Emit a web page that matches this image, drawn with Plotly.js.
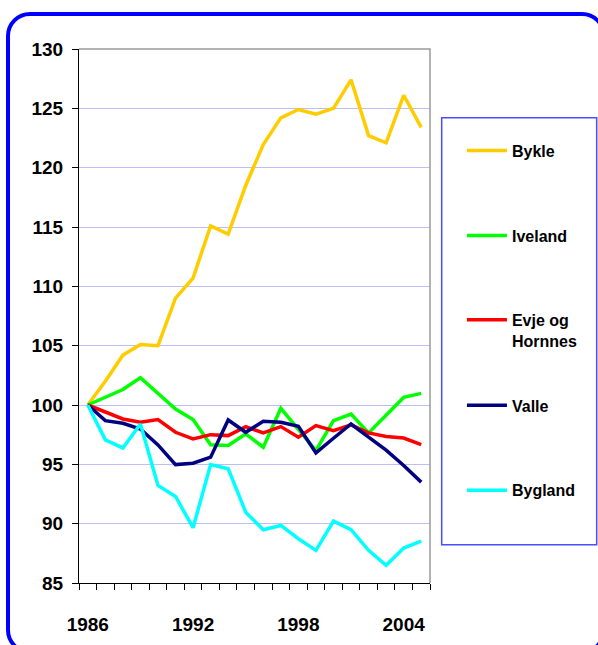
<!DOCTYPE html>
<html>
<head>
<meta charset="utf-8">
<script src="https://cdn.plot.ly/plotly-3.0.1.min.js"></script>
<style>
  html, body { margin: 0; padding: 0; background: #ffffff; width: 598px; height: 645px; overflow: hidden; }
  #frame { position: absolute; left: 6px; top: 12px; width: 600px; height: 642px; border: 4px solid #0000ff; border-radius: 24px; box-sizing: border-box; pointer-events: none; }
  #chart { position: absolute; left: 0; top: 0; width: 598px; height: 645px; }
</style>
</head>
<body>
<div id="frame"></div>
<div id="chart"></div>
<script>
const years = [1986, 1987, 1988, 1989, 1990, 1991, 1992, 1993, 1994, 1995,
               1996, 1997, 1998, 1999, 2000, 2001, 2002, 2003, 2004, 2005];
const xTickLabels = [1986, 1992, 1998, 2004];
const seriesNames = ['Bykle', 'Iveland', 'Evje og<br>Hornnes', 'Valle', 'Bygland'];
const bykle   = [100, 102.0, 104.2, 105.1, 105.0, 109.0, 110.7, 115.1, 114.4, 118.5,
                 121.95, 124.2, 124.9, 124.5, 125.0, 127.4, 122.7, 122.1, 126.1, 123.4];
const iveland = [100, 100.67, 101.3, 102.3, 101.0, 99.66, 98.77, 96.64, 96.58, 97.56,
                 96.44, 99.72, 97.95, 96.16, 98.68, 99.24, 97.64, 99.16, 100.64, 100.98];
const evje    = [100, 99.38, 98.82, 98.54, 98.77, 97.70, 97.14, 97.50, 97.42, 98.18,
                 97.65, 98.18, 97.28, 98.26, 97.84, 98.32, 97.65, 97.34, 97.22, 96.66];
const valle   = [100, 98.68, 98.46, 97.98, 96.64, 94.98, 95.09, 95.60, 98.74, 97.70,
                 98.63, 98.54, 98.21, 95.96, 97.2, 98.4, 97.3, 96.2, 94.9, 93.5];
const bygland = [100, 97.06, 96.38, 98.40, 93.22, 92.29, 89.66, 94.98, 94.62, 90.97,
                 89.49, 89.85, 88.73, 87.75, 90.22, 89.49, 87.75, 86.49, 87.94, 88.53];

const seriesValues = [bykle, iveland, evje, valle, bygland];
const seriesColors = ['#FFCC00', '#00FF00', '#FF0000', '#000080', '#00FFFF'];
const legendIds = ['legend', 'legend2', 'legend3', 'legend4', 'legend5'];
const legendTops = [0.8415, 0.6825, 0.5245, 0.3645, 0.2055];

const font = { family: 'Liberation Sans, Arial, sans-serif', color: '#000000', weight: 'bold' };

const traces = seriesValues.map((vals, k) => ({
  type: 'scatter', mode: 'lines', x: years, y: vals, name: seriesNames[k],
  line: { color: seriesColors[k], width: 3.5 },
  legend: legendIds[k], hoverinfo: 'skip'
}));

const layout = {
  width: 598, height: 645,
  margin: { l: 79, r: 168, t: 49, b: 62, pad: 0 },
  paper_bgcolor: 'rgba(0,0,0,0)', plot_bgcolor: '#ffffff',
  showlegend: true,
  font: Object.assign({ size: 19 }, font),
  xaxis: {
    range: [1985.5, 2005.5], tickmode: 'array', tickvals: xTickLabels,
    ticktext: xTickLabels.map(String),
    ticks: 'outside', ticklen: 24, tickcolor: 'rgba(0,0,0,0)',
    showgrid: false, zeroline: false,
    showline: true, linecolor: '#000000', linewidth: 1,
    tickfont: Object.assign({ size: 19 }, font),
    minor: { tickmode: 'linear', tick0: 1985.5, dtick: 1, ticks: 'outside', ticklen: 6, tickcolor: '#000000', tickwidth: 1, showgrid: false }
  },
  yaxis: {
    range: [85, 130], tickmode: 'linear', tick0: 85, dtick: 5,
    ticks: 'outside', ticklen: 6, tickcolor: '#000000', tickwidth: 1,
    showgrid: true, gridcolor: '#bdbdf7', gridwidth: 1, zeroline: false,
    showline: true, linecolor: '#000000', linewidth: 1,
    tickfont: Object.assign({ size: 19 }, font),
    ticklabelstandoff: 5
  },
  shapes: [
    { type: 'path', xref: 'paper', yref: 'paper', path: 'M 0 1 L 1 1 L 1 0',
      line: { color: '#999999', width: 1.5 }, layer: 'above' },
    { type: 'rect', xref: 'paper', yref: 'paper', x0: 1.0333, x1: 1.4749, y0: 0.0716, y1: 0.8714,
      line: { color: '#4d4dff', width: 1.5 }, fillcolor: 'rgba(0,0,0,0)', layer: 'above' }
  ]
};
legendIds.forEach((id, k) => {
  layout[id] = {
    x: 1.091, xanchor: 'left', y: legendTops[k], yanchor: 'top',
    bgcolor: 'rgba(0,0,0,0)', borderwidth: 0, valign: 'top',
    itemwidth: 40,
    font: Object.assign({ size: 16 }, font)
  };
});

Plotly.newPlot('chart', traces, layout, { staticPlot: true, displayModeBar: false });
</script>
</body>
</html>
